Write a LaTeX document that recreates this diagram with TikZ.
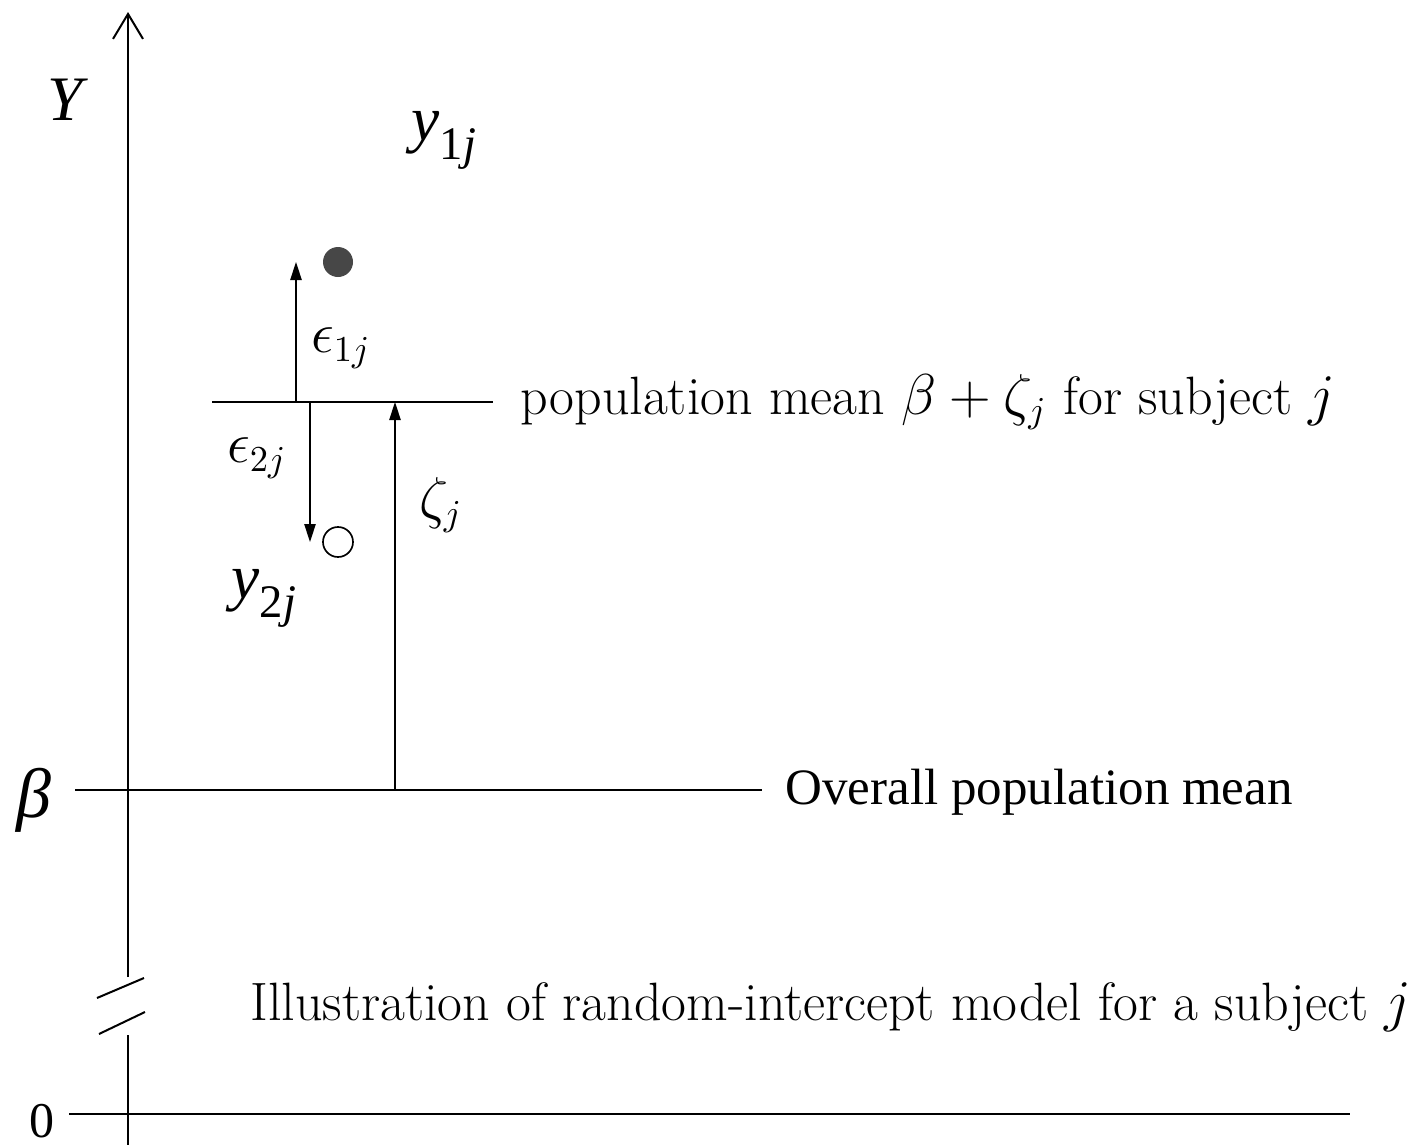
\documentclass[tikz,border=0pt]{standalone}
\usepackage{fontspec}
\newfontfamily\tnr{Liberation Serif}
\newfontfamily\tnri{Liberation Serif Italic}
\usetikzlibrary{arrows.meta}
\begin{document}
\begin{tikzpicture}[x=0.3pt,y=-0.3pt,
  axisline/.style={line width=0.6pt},
  thinline/.style={line width=0.45pt},
  errarrow/.style={line width=0.45pt,-{Triangle[length=5.4pt,width=3.4pt]}},
  cmlabel/.style={inner sep=0pt,font=\fontsize{16.2}{19}\selectfont},
  tnlabel/.style={inner sep=0pt,font=\fontsize{19}{22}\selectfont\tnri},
  dot/.style={circle,inner sep=0pt,minimum size=9pt}]
\useasboundingbox (0,0) rectangle (1415,1145);
% axis
\coordinate (axtop) at (128,12);
\coordinate (axbrk1) at (128,977);
\coordinate (axbrk2) at (128,1035);
\coordinate (axbot) at (128,1145);
\draw[axisline,-{Straight Barb[length=7.5pt,width=9pt]}] (axbrk1) -- (axtop);
\draw[axisline] (axbrk2) -- (axbot);
\draw[axisline] (97,998) -- (144,978);
\draw[axisline] (99,1034) -- (145,1012);
\coordinate (zl) at (69,1114);
\coordinate (zr) at (1350,1114);
\draw[line width=0.75pt] (zl) -- (zr);
\node[inner sep=0pt,font=\fontsize{15}{17}\selectfont\tnr] (zero) at (42,1121) {0};
\node[tnlabel] (Ylab) at (65,100) {Y};
\node[tnlabel] (y1lab) at (444,140) {y\raisebox{-0.3em}{\fontsize{14}{16}\selectfont\tnr 1\tnri j}};
\node[tnlabel] (y2lab) at (264,598) {y\raisebox{-0.3em}{\fontsize{14}{16}\selectfont\tnr 2\tnri j}};
\node[tnlabel,font=\fontsize{21}{24}\selectfont\tnri] (betalab) at (34,800) {β};
% points
\node[dot,fill=black!72] (y1) at (338,262) {};
\node[dot,draw,line width=0.5pt,fill=white] (y2) at (338,542) {};
% subject mean line
\coordinate (ml) at (212,402);
\coordinate (mr) at (493,402);
\draw[thinline] (ml) -- (mr);
\coordinate (e1s) at (296,402);
\coordinate (e1t) at (296,262);
\draw[errarrow] (e1s) -- (e1t);
\coordinate (e2s) at (310,402);
\coordinate (e2t) at (310,542);
\draw[errarrow] (e2s) -- (e2t);
\coordinate (zs) at (395,790);
\coordinate (zt) at (395,402);
\draw[errarrow] (zs) -- (zt);
% overall mean line
\coordinate (bl) at (75,790);
\coordinate (br) at (762,790);
\draw[line width=0.5pt] (bl) -- (br);
% labels
\node[cmlabel] (e1lab) at (341,348) {$\epsilon_{1j}$};
\node[cmlabel] (e2lab) at (257,458) {$\epsilon_{2j}$};
\node[cmlabel] (zlab) at (441,505) {$\zeta_j$};
\node[cmlabel,anchor=base west] (pmlab) at (520,414) {population mean $\beta+\zeta_j$ for subject $j$};
\node[inner sep=0pt,anchor=base west,font=\fontsize{15.3}{18}\selectfont\tnr] (omlab) at (785,804) {Overall population mean};
\node[cmlabel,anchor=base west] (illab) at (250,1020) {Illustration of random-intercept model for a subject $j$};
\end{tikzpicture}
\end{document}
